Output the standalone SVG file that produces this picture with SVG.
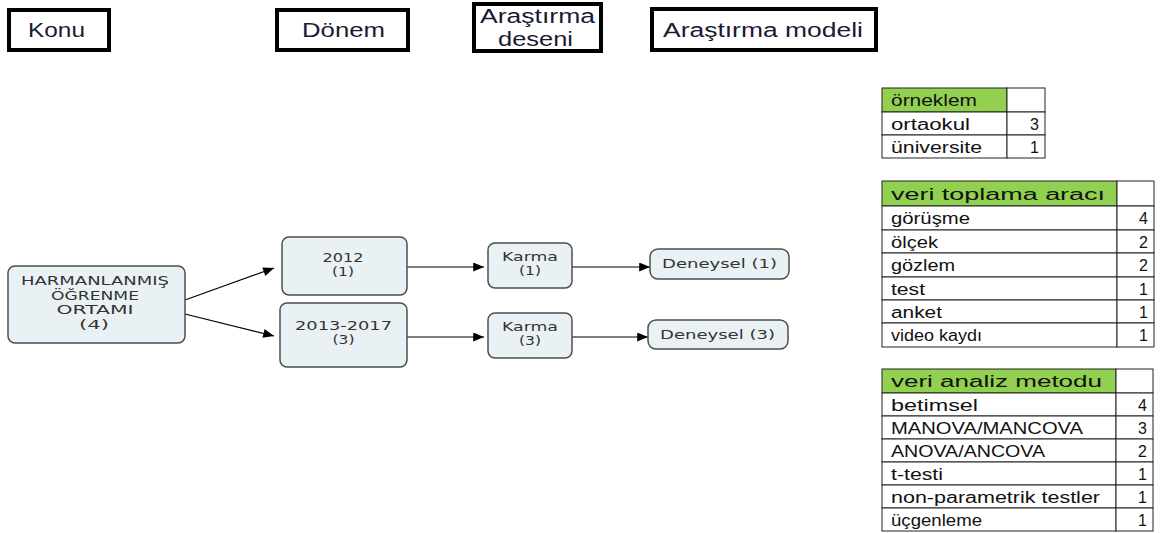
<svg xmlns="http://www.w3.org/2000/svg" width="1162" height="533" viewBox="0 0 1162 533">
<style>
.hdr{fill:#fff;stroke:#000;stroke-width:4}
.ht{font-family:"Liberation Sans",Arial,sans-serif;font-size:20px;fill:#1a1a33}
.nd{fill:#EAF1F5;stroke:#4d4d4d;stroke-width:1.5}
.nt{font-family:"DejaVu Sans",Verdana,sans-serif;font-size:12.5px;fill:#333;text-anchor:middle}
.cell{fill:#fff;stroke:#222;stroke-width:1}
.gh{fill:#92D050;stroke:#222;stroke-width:1}
.tt{font-family:"Liberation Sans",Arial,sans-serif;font-size:16px;fill:#111}
.tn{font-family:"Liberation Sans",Arial,sans-serif;font-size:16px;fill:#111;text-anchor:end}
.cn{stroke:#000;stroke-width:1.2;fill:none}
</style>
<defs>
<marker id="ah" viewBox="0 0 12 10" refX="12" refY="5" markerWidth="12" markerHeight="9" markerUnits="userSpaceOnUse" orient="auto">
<path d="M0,0 L12,5 L0,10 z" fill="#000"/>
</marker>
</defs>
<rect width="1162" height="533" fill="#fff"/>

<g id="h-konu">
<rect class="hdr" x="9" y="10" width="100" height="40"/>
<text class="ht" x="28" y="37" textLength="57" lengthAdjust="spacingAndGlyphs">Konu</text>
</g>
<g id="h-donem">
<rect class="hdr" x="277" y="10" width="131" height="40"/>
<text class="ht" x="302" y="37" textLength="83" lengthAdjust="spacingAndGlyphs">Dönem</text>
</g>
<g id="h-desen">
<rect class="hdr" x="474" y="4" width="127" height="47"/>
<text class="ht" x="480" y="23" textLength="115" lengthAdjust="spacingAndGlyphs">Araştırma</text>
<text class="ht" x="498" y="46" textLength="75" lengthAdjust="spacingAndGlyphs">deseni</text>
</g>
<g id="h-model">
<rect class="hdr" x="652" y="9" width="224" height="41"/>
<text class="ht" x="663" y="37" textLength="200" lengthAdjust="spacingAndGlyphs">Araştırma modeli</text>
</g>

<g id="connectors">
<line class="cn" x1="185" y1="300" x2="274" y2="268" marker-end="url(#ah)"/>
<line class="cn" x1="185" y1="314" x2="274" y2="336" marker-end="url(#ah)"/>
<line class="cn" x1="407" y1="267" x2="484" y2="267" marker-end="url(#ah)"/>
<line class="cn" x1="407" y1="337" x2="484" y2="337" marker-end="url(#ah)"/>
<line class="cn" x1="572" y1="267" x2="650" y2="267" marker-end="url(#ah)"/>
<line class="cn" x1="572" y1="337" x2="648" y2="337" marker-end="url(#ah)"/>
</g>

<g id="n-konu">
<rect class="nd" x="8" y="266" width="177" height="77" rx="7"/>
<text class="nt" x="95" y="285" textLength="148" lengthAdjust="spacingAndGlyphs">HARMANLANMIŞ</text>
<text class="nt" x="95" y="299.5" textLength="88" lengthAdjust="spacingAndGlyphs">ÖĞRENME</text>
<text class="nt" x="95" y="314" textLength="77" lengthAdjust="spacingAndGlyphs">ORTAMI</text>
<text class="nt" x="94" y="328.5" textLength="30" lengthAdjust="spacingAndGlyphs">(4)</text>
</g>
<g id="n-2012">
<rect class="nd" x="282" y="237" width="125" height="58" rx="7"/>
<text class="nt" x="343" y="262" textLength="41" lengthAdjust="spacingAndGlyphs">2012</text>
<text class="nt" x="343" y="276" textLength="22" lengthAdjust="spacingAndGlyphs">(1)</text>
</g>
<g id="n-2013">
<rect class="nd" x="280" y="303" width="127" height="64" rx="7"/>
<text class="nt" x="343.5" y="330" textLength="97" lengthAdjust="spacingAndGlyphs">2013-2017</text>
<text class="nt" x="343.5" y="344" textLength="22" lengthAdjust="spacingAndGlyphs">(3)</text>
</g>
<g id="n-karma1">
<rect class="nd" x="488" y="243" width="84" height="45" rx="7"/>
<text class="nt" x="530" y="261" textLength="56" lengthAdjust="spacingAndGlyphs">Karma</text>
<text class="nt" x="530" y="275" textLength="22" lengthAdjust="spacingAndGlyphs">(1)</text>
</g>
<g id="n-karma3">
<rect class="nd" x="488" y="313" width="84" height="45" rx="7"/>
<text class="nt" x="530" y="331" textLength="56" lengthAdjust="spacingAndGlyphs">Karma</text>
<text class="nt" x="530" y="345" textLength="22" lengthAdjust="spacingAndGlyphs">(3)</text>
</g>
<g id="n-deneysel1">
<rect class="nd" x="650" y="249" width="139" height="30" rx="8"/>
<text class="nt" x="719.5" y="268" textLength="115" lengthAdjust="spacingAndGlyphs">Deneysel (1)</text>
</g>
<g id="n-deneysel3">
<rect class="nd" x="648" y="320" width="140" height="29" rx="8"/>
<text class="nt" x="717.5" y="339" textLength="115" lengthAdjust="spacingAndGlyphs">Deneysel (3)</text>
</g>

<g id="t-orneklem">
<rect class="gh" x="882" y="88" width="125" height="24"/>
<rect class="cell" x="1007" y="88" width="38" height="24"/>
<rect class="cell" x="882" y="112" width="125" height="23"/>
<rect class="cell" x="1007" y="112" width="38" height="23"/>
<rect class="cell" x="882" y="135" width="125" height="23"/>
<rect class="cell" x="1007" y="135" width="38" height="23"/>
<text class="tt" x="891" y="106" textLength="86" lengthAdjust="spacingAndGlyphs">örneklem</text>
<text class="tt" x="891" y="130" textLength="79" lengthAdjust="spacingAndGlyphs">ortaokul</text>
<text class="tt" x="891" y="153" textLength="91" lengthAdjust="spacingAndGlyphs">üniversite</text>
<text class="tn" x="1039" y="130">3</text>
<text class="tn" x="1039" y="153">1</text>
</g>

<g id="t-veritoplama">
<rect class="gh" x="882" y="181" width="235" height="25"/>
<rect class="cell" x="1117" y="181" width="37" height="25"/>
<rect class="cell" x="882" y="206" width="235" height="24"/>
<rect class="cell" x="1117" y="206" width="37" height="24"/>
<rect class="cell" x="882" y="230" width="235" height="23"/>
<rect class="cell" x="1117" y="230" width="37" height="23"/>
<rect class="cell" x="882" y="253" width="235" height="24"/>
<rect class="cell" x="1117" y="253" width="37" height="24"/>
<rect class="cell" x="882" y="277" width="235" height="23"/>
<rect class="cell" x="1117" y="277" width="37" height="23"/>
<rect class="cell" x="882" y="300" width="235" height="23"/>
<rect class="cell" x="1117" y="300" width="37" height="23"/>
<rect class="cell" x="882" y="323" width="235" height="24"/>
<rect class="cell" x="1117" y="323" width="37" height="24"/>
<text class="tt" x="891" y="200" textLength="214" lengthAdjust="spacingAndGlyphs">veri toplama aracı</text>
<text class="tt" x="891" y="224" textLength="79" lengthAdjust="spacingAndGlyphs">görüşme</text>
<text class="tt" x="891" y="248" textLength="47" lengthAdjust="spacingAndGlyphs">ölçek</text>
<text class="tt" x="891" y="271" textLength="64" lengthAdjust="spacingAndGlyphs">gözlem</text>
<text class="tt" x="891" y="295" textLength="34" lengthAdjust="spacingAndGlyphs">test</text>
<text class="tt" x="891" y="318" textLength="51" lengthAdjust="spacingAndGlyphs">anket</text>
<text class="tt" x="891" y="341" textLength="91" lengthAdjust="spacingAndGlyphs">video kaydı</text>
<text class="tn" x="1148" y="224">4</text>
<text class="tn" x="1148" y="248">2</text>
<text class="tn" x="1148" y="271">2</text>
<text class="tn" x="1148" y="295">1</text>
<text class="tn" x="1148" y="318">1</text>
<text class="tn" x="1148" y="341">1</text>
</g>

<g id="t-verianaliz">
<rect class="gh" x="882" y="369" width="234" height="24"/>
<rect class="cell" x="1116" y="369" width="37" height="24"/>
<rect class="cell" x="882" y="393" width="234" height="23"/>
<rect class="cell" x="1116" y="393" width="37" height="23"/>
<rect class="cell" x="882" y="416" width="234" height="23"/>
<rect class="cell" x="1116" y="416" width="37" height="23"/>
<rect class="cell" x="882" y="439" width="234" height="23"/>
<rect class="cell" x="1116" y="439" width="37" height="23"/>
<rect class="cell" x="882" y="462" width="234" height="23"/>
<rect class="cell" x="1116" y="462" width="37" height="23"/>
<rect class="cell" x="882" y="485" width="234" height="23"/>
<rect class="cell" x="1116" y="485" width="37" height="23"/>
<rect class="cell" x="882" y="508" width="234" height="23"/>
<rect class="cell" x="1116" y="508" width="37" height="23"/>
<text class="tt" x="891" y="387" textLength="211" lengthAdjust="spacingAndGlyphs">veri analiz metodu</text>
<text class="tt" x="891" y="411" textLength="87" lengthAdjust="spacingAndGlyphs">betimsel</text>
<text class="tt" x="891" y="434" textLength="192" lengthAdjust="spacingAndGlyphs">MANOVA/MANCOVA</text>
<text class="tt" x="891" y="457" textLength="154" lengthAdjust="spacingAndGlyphs">ANOVA/ANCOVA</text>
<text class="tt" x="891" y="480" textLength="52" lengthAdjust="spacingAndGlyphs">t-testi</text>
<text class="tt" x="891" y="503" textLength="209" lengthAdjust="spacingAndGlyphs">non-parametrik testler</text>
<text class="tt" x="891" y="526" textLength="91" lengthAdjust="spacingAndGlyphs">üçgenleme</text>
<text class="tn" x="1147" y="411">4</text>
<text class="tn" x="1147" y="434">3</text>
<text class="tn" x="1147" y="457">2</text>
<text class="tn" x="1147" y="480">1</text>
<text class="tn" x="1147" y="503">1</text>
<text class="tn" x="1147" y="526">1</text>
</g>
</svg>
